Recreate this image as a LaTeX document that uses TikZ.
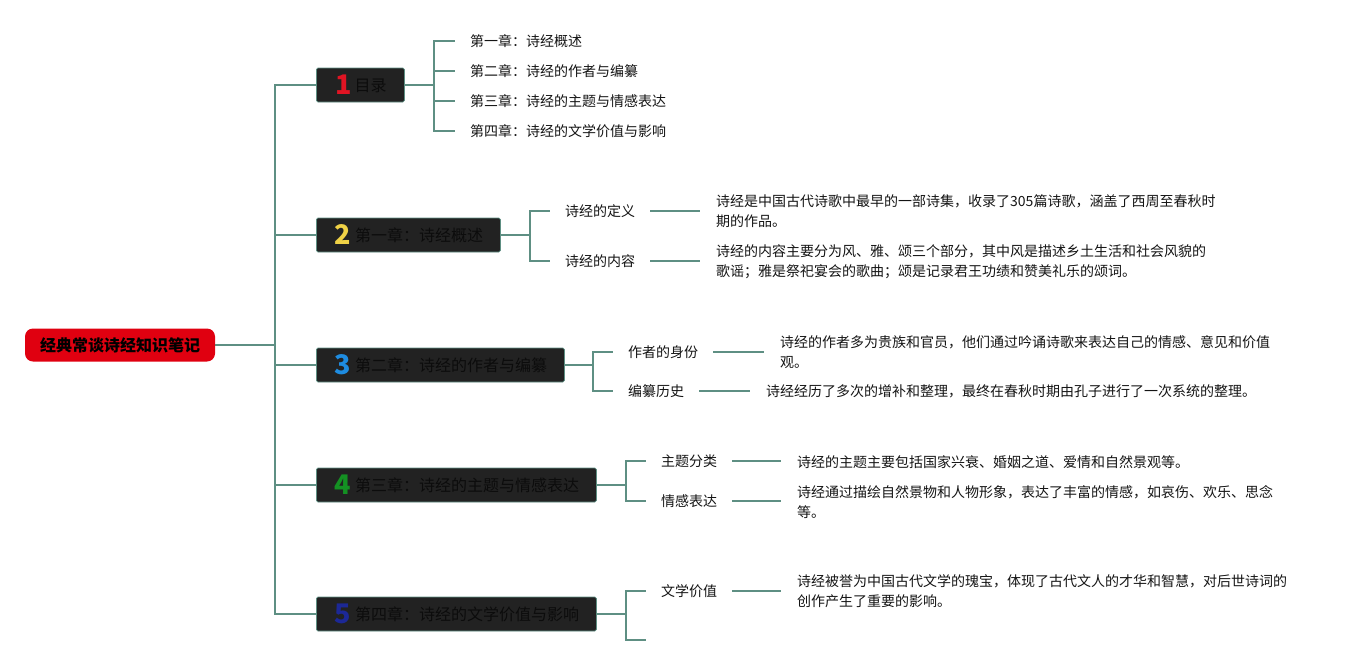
\documentclass[tikz,border=0pt]{standalone}
\usepackage{fontspec}
\setmainfont{Noto Sans CJK SC}
\definecolor{teal1}{RGB}{94,143,131}
\definecolor{boxfill}{RGB}{34,34,34}
\definecolor{boxtext}{RGB}{12,12,12}
\definecolor{rootred}{RGB}{224,0,16}
\definecolor{dred}{RGB}{225,20,35}
\definecolor{dyellow}{RGB}{240,210,70}
\definecolor{dblue}{RGB}{30,140,225}
\definecolor{dgreen}{RGB}{20,145,35}
\definecolor{dnavy}{RGB}{28,40,150}
\definecolor{txt}{RGB}{20,20,20}
\begin{document}
\begin{tikzpicture}[x=1pt,y=-1pt,
  conn/.style={draw=teal1,line width=1.8pt},
  rootbox/.style={fill=rootred,rounded corners=8pt,minimum width=190pt,minimum height=33pt,inner sep=0pt,font=\fontsize{16}{18}\selectfont\bfseries,text=black},
  chapbox/.style={fill=boxfill,draw=teal1,line width=0.8pt,rounded corners=1.5pt,minimum height=34pt,inner xsep=0pt,inner ysep=0pt,anchor=west,text=boxtext,font=\fontsize{16}{18}\selectfont},
  lab/.style={anchor=west,inner xsep=15pt,inner ysep=0pt,text=txt,font=\fontsize{14}{20}\selectfont},
  desc/.style={anchor=west,inner xsep=16pt,inner ysep=0pt,align=left,text=txt,font=\fontsize{14}{20}\selectfont},
]
\useasboundingbox (0,0) rectangle (1357,665);
\newcommand{\dig}[2]{{\fontsize{27}{27}\selectfont\bfseries\color{#1}#2}}
\newcommand{\ttl}[1]{\raisebox{3.5pt}{#1}}
% root
\node[rootbox] (root) at (120,345) {经典常谈诗经知识笔记};
% chapter boxes
\node[chapbox,minimum width=88pt] (b1) at (316,85) {\hspace*{17pt}\dig{dred}{1}\hspace{3pt}\ttl{目录}\hspace*{16pt}};
\node[chapbox,minimum width=184pt] (b2) at (316,235) {\hspace*{16pt}\dig{dyellow}{2}\hspace{4pt}\ttl{第一章：诗经概述}\hspace*{15pt}};
\node[chapbox,minimum width=248pt] (b3) at (316,365) {\hspace*{16pt}\dig{dblue}{3}\hspace{4pt}\ttl{第二章：诗经的作者与编纂}\hspace*{15pt}};
\node[chapbox,minimum width=280pt] (b4) at (316,485) {\hspace*{16pt}\dig{dgreen}{4}\hspace{4pt}\ttl{第三章：诗经的主题与情感表达}\hspace*{15pt}};
\node[chapbox,minimum width=280pt] (b5) at (316,614) {\hspace*{16pt}\dig{dnavy}{5}\hspace{4pt}\ttl{第四章：诗经的文学价值与影响}\hspace*{15pt}};
% trunk
\coordinate (j) at (275,345);
\draw[conn] (root.east) -- (j);
\draw[conn] (j) |- (b1.west);
\draw[conn] (j) |- (b5.west);
\draw[conn] (j |- b2.west) -- (b2.west);
\draw[conn] (j |- b3.west) -- (b3.west);
\draw[conn] (j |- b4.west) -- (b4.west);
% chapter 1 children
\node[lab] (c11) at (455,41) {第一章：诗经概述};
\node[lab] (c12) at (455,71) {第二章：诗经的作者与编纂};
\node[lab] (c13) at (455,101) {第三章：诗经的主题与情感表达};
\node[lab] (c14) at (455,131) {第四章：诗经的文学价值与影响};
\coordinate (k1) at (434,85);
\draw[conn] (b1.east) -- (k1);
\draw[conn] (k1) |- (c11.west);
\draw[conn] (k1) |- (c14.west);
\draw[conn] (k1 |- c12.west) -- (c12.west);
\draw[conn] (k1 |- c13.west) -- (c13.west);
% chapter 2 children
\node[lab] (c21) at (550,211) {诗经的定义};
\node[lab] (c22) at (550,261) {诗经的内容};
\coordinate (k2) at (530,235);
\draw[conn] (b2.east) -- (k2);
\draw[conn] (k2) |- (c21.west);
\draw[conn] (k2) |- (c22.west);
\node[desc] (d21) at (700,211) {诗经是中国古代诗歌中最早的一部诗集，收录了305篇诗歌，涵盖了西周至春秋时\\期的作品。};
\node[desc] (d22) at (700,262) {诗经的内容主要分为风、雅、颂三个部分，其中风是描述乡土生活和社会风貌的\\歌谣；雅是祭祀宴会的歌曲；颂是记录君王功绩和赞美礼乐的颂词。};
\draw[conn] (c21.east) -- (d21.west |- c21.east);
\draw[conn] (c22.east) -- (d22.west |- c22.east);
% chapter 3 children
\node[lab] (c31) at (613,352) {作者的身份};
\node[lab] (c32) at (613,391) {编纂历史};
\coordinate (k3) at (593,365);
\draw[conn] (b3.east) -- (k3);
\draw[conn] (k3) |- (c31.west);
\draw[conn] (k3) |- (c32.west);
\node[desc] (d31) at (764,352) {诗经的作者多为贵族和官员，他们通过吟诵诗歌来表达自己的情感、意见和价值\\观。};
\node[desc] (d32) at (750,391) {诗经经历了多次的增补和整理，最终在春秋时期由孔子进行了一次系统的整理。};
\draw[conn] (c31.east) -- (d31.west |- c31.east);
\draw[conn] (c32.east) -- (d32.west);
% chapter 4 children
\node[lab] (c41) at (646,461) {主题分类};
\node[lab] (c42) at (646,501) {情感表达};
\coordinate (k4) at (626,485);
\draw[conn] (b4.east) -- (k4);
\draw[conn] (k4) |- (c41.west);
\draw[conn] (k4) |- (c42.west);
\node[desc] (d41) at (781,462) {诗经的主题主要包括国家兴衰、婚姻之道、爱情和自然景观等。};
\node[desc] (d42) at (781,502) {诗经通过描绘自然景物和人物形象，表达了丰富的情感，如哀伤、欢乐、思念\\等。};
\draw[conn] (c41.east) -- (d41.west |- c41.east);
\draw[conn] (c42.east) -- (d42.west |- c42.east);
% chapter 5 children
\node[lab] (c51) at (646,591) {文学价值};
\coordinate (c52) at (646,640);
\coordinate (k5) at (626,614);
\draw[conn] (b5.east) -- (k5);
\draw[conn] (k5) |- (c51.west);
\draw[conn] (k5) |- (c52);
\node[desc] (d51) at (781,591) {诗经被誉为中国古代文学的瑰宝，体现了古代文人的才华和智慧，对后世诗词的\\创作产生了重要的影响。};
\draw[conn] (c51.east) -- (d51.west |- c51.east);
\end{tikzpicture}
\end{document}
